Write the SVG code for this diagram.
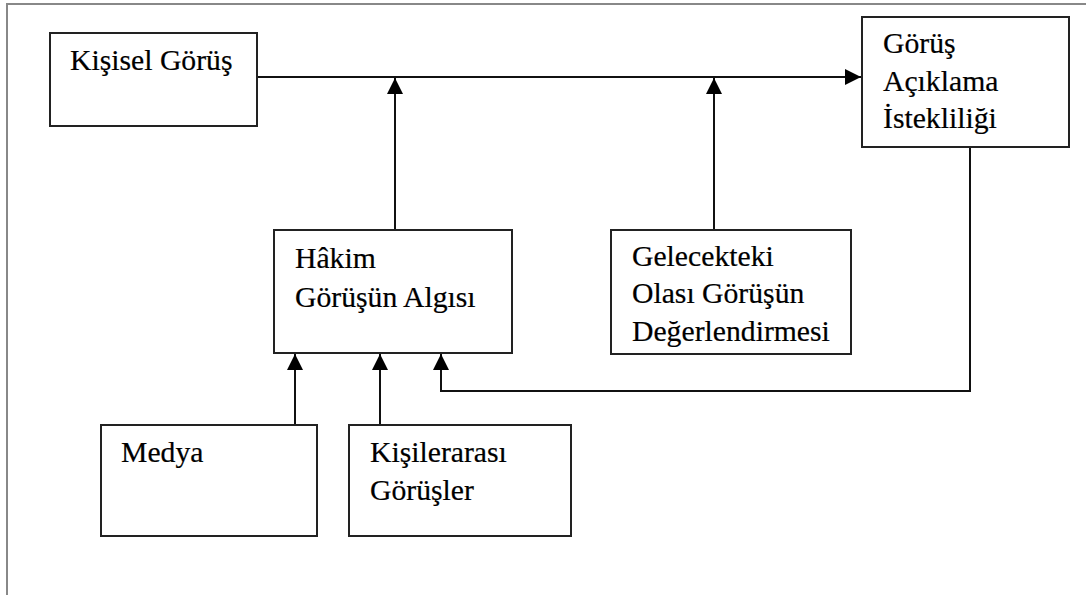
<svg xmlns="http://www.w3.org/2000/svg" width="1086" height="595" viewBox="0 0 1086 595">
<defs>
<style>
.box{fill:#fff;stroke:#222;stroke-width:2}
text{font-family:'Liberation Serif',Tinos,'Times New Roman',Times,'DejaVu Serif',serif;font-size:29.7px;fill:#000;stroke:#000;stroke-width:0.2}
.c{fill:none;stroke:#111;stroke-width:2}
</style>
<marker id="ah" viewBox="0 0 16 16" refX="16" refY="8" markerWidth="16" markerHeight="16" markerUnits="userSpaceOnUse" orient="auto">
<path d="M0,0 L16,8 L0,16 Z" fill="#000"/>
</marker>
</defs>
<rect width="1086" height="595" fill="#fff"/>
<path d="M7,595 V4 H1086" fill="none" stroke="#888" stroke-width="2"/>
<g id="connectors">
<path class="c" d="M257,77 H861" marker-end="url(#ah)"/>
<path class="c" d="M395,230 V78" marker-end="url(#ah)"/>
<path class="c" d="M714,230 V78" marker-end="url(#ah)"/>
<path class="c" d="M295,425 V354" marker-end="url(#ah)"/>
<path class="c" d="M380,425 V354" marker-end="url(#ah)"/>
<path class="c" d="M970,147 V391 H441 V354" marker-end="url(#ah)"/>
</g>
<g id="kisisel">
<rect class="box" x="50" y="33" width="207" height="93"/>
<text x="70" y="70">Kişisel Görüş</text>
</g>
<g id="aciklama">
<rect class="box" x="862" y="17" width="207" height="130"/>
<text x="883" y="53">Görüş</text>
<text x="883" y="91">Açıklama</text>
<text x="883" y="128">İstekliliği</text>
</g>
<g id="hakim">
<rect class="box" x="274" y="230" width="238" height="123"/>
<text x="295" y="268">Hâkim</text>
<text x="295" y="307">Görüşün Algısı</text>
</g>
<g id="gelecek">
<rect class="box" x="611" y="230" width="240" height="124"/>
<text x="632" y="266">Gelecekteki</text>
<text x="632" y="303">Olası Görüşün</text>
<text x="632" y="341">Değerlendirmesi</text>
</g>
<g id="medya">
<rect class="box" x="101" y="425" width="216" height="111"/>
<text x="121" y="462">Medya</text>
</g>
<g id="kisilerarasi">
<rect class="box" x="349" y="425" width="222" height="111"/>
<text x="370" y="462">Kişilerarası</text>
<text x="370" y="500">Görüşler</text>
</g>
</svg>
